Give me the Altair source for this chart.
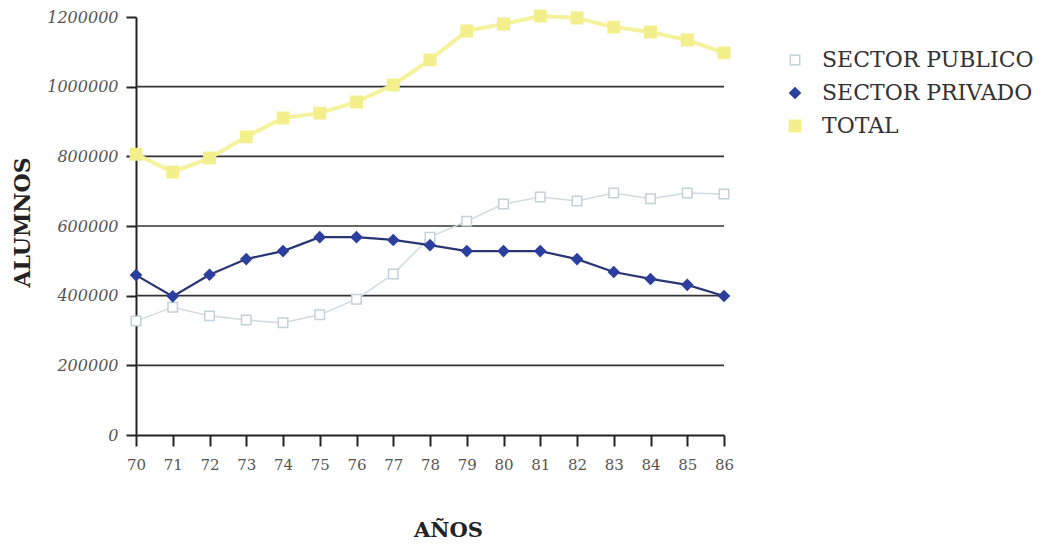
import altair as alt
import pandas as pd

years = list(range(70, 87))
publico = [327000, 367000, 342000, 330000, 322000, 345000, 390000, 462000, 568000,
           614000, 663000, 683000, 672000, 695000, 678000, 695000, 692000]
privado = [459000, 398000, 460000, 505000, 528000, 568000, 568000, 560000, 545000,
           528000, 528000, 528000, 505000, 468000, 448000, 431000, 399000]
total = [806000, 755000, 795000, 856000, 910000, 924000, 956000, 1005000, 1077000,
         1160000, 1180000, 1203000, 1197000, 1171000, 1157000, 1134000, 1097000]
series_names = ["SECTOR PUBLICO", "SECTOR PRIVADO", "TOTAL"]
y_ticks = [0, 200000, 400000, 600000, 800000, 1000000, 1200000]
grid_values = [200000, 400000, 600000, 800000, 1000000]

rows = []
for name, vals in zip(series_names, [publico, privado, total]):
    for yr, v in zip(years, vals):
        rows.append({"year": yr, "value": v, "serie": name})
df = pd.DataFrame(rows)
grid_df = pd.DataFrame({"value": grid_values})

SERIF = "DejaVu Serif"
W, H = 588, 418

x_axis = alt.Axis(values=years, format="d", title="AÑOS", grid=False,
                  tickSize=11, tickWidth=2, tickColor="#222",
                  domainColor="#222", domainWidth=2, labelOverlap=False,
                  labelFont=SERIF, labelFontSize=15, labelColor="#555",
                  labelPadding=11, labelFlush=False,
                  titleFont=SERIF, titleFontSize=21, titleFontWeight="bold",
                  titleColor="#222", titleX=312, titleY=95,
                  titleBaseline="middle", titleAlign="center")
y_axis = alt.Axis(values=y_ticks, format="d", title="ALUMNOS", grid=False,
                  tickSize=10, tickWidth=2, tickColor="#222",
                  domainColor="#222", domainWidth=2, labelOverlap=False,
                  labelFont=SERIF, labelFontSize=16, labelFontStyle="italic",
                  labelColor="#555", labelPadding=8, labelFlush=False,
                  titleFont=SERIF, titleFontSize=22, titleFontWeight="bold",
                  titleColor="#222", titleX=-114, titleY=205, titleAngle=270,
                  titleBaseline="middle", titleAlign="center")
x_scale = alt.Scale(domain=[70, 86], nice=False, zero=False)
y_scale = alt.Scale(domain=[0, 1200000], nice=False)

grid = alt.Chart(grid_df).mark_rule(color="#333", strokeWidth=1.6).encode(
    y=alt.Y("value:Q", scale=y_scale, axis=y_axis)
)

line_styles = {"SECTOR PUBLICO": ("#cfdbe1", 1.5),
               "SECTOR PRIVADO": ("#2a3672", 2.2),
               "TOTAL": ("#f5f29c", 4)}
line_layers = []
for name in series_names:
    c, w = line_styles[name]
    line_layers.append(
        alt.Chart(df).transform_filter(alt.datum.serie == name)
        .mark_line(color=c, strokeWidth=w)
        .encode(x=alt.X("year:Q", scale=x_scale, axis=x_axis),
                y=alt.Y("value:Q", scale=y_scale, axis=y_axis))
    )

dom = series_names
pts = alt.Chart(df).mark_point(filled=False, opacity=1, strokeWidth=1.5).encode(
    x=alt.X("year:Q", scale=x_scale, axis=x_axis),
    y=alt.Y("value:Q", scale=y_scale, axis=y_axis),
    shape=alt.Shape("serie:N", scale=alt.Scale(domain=dom, range=["square", "diamond", "square"]), title=None),
    fill=alt.Fill("serie:N", scale=alt.Scale(domain=dom, range=["#ffffff", "#2c3f9e", "#f3ef8c"]), title=None),
    stroke=alt.Stroke("serie:N", scale=alt.Scale(domain=dom, range=["#c3d1d8", "#2c3f9e", "#f3ef8c"]), title=None),
    size=alt.Size("serie:N", scale=alt.Scale(domain=dom, range=[90, 130, 160]), title=None),
)

chart = alt.layer(grid, *line_layers, pts).properties(
    width=W, height=H,
    autosize=alt.AutoSizeParams(type="none"),
    padding={"left": 128, "top": 9, "right": 312, "bottom": 109},
).configure_view(stroke=None).configure_legend(
    orient="none", legendX=648, legendY=32,
    labelFont=SERIF, labelFontSize=22, labelColor="#333", labelLimit=0,
    symbolStrokeWidth=1.5, rowPadding=11, labelOffset=16,
)

chart.save("out.html", embed_options={"renderer": "svg", "actions": False})
